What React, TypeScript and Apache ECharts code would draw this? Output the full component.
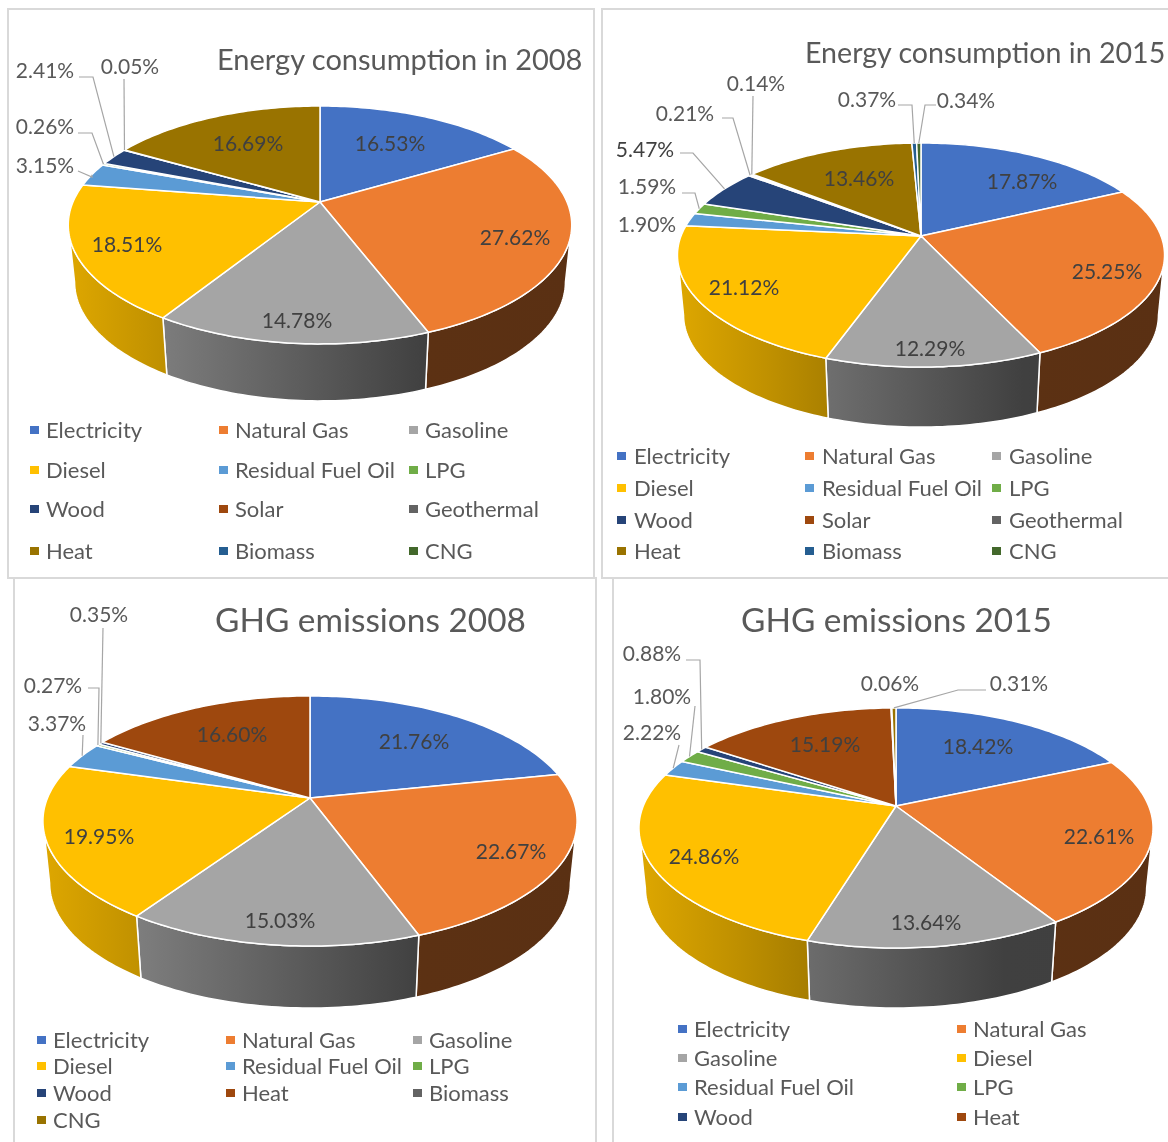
import React, { useEffect, useRef } from "react";
import * as echarts from "echarts";

const categoriesEnergy = ["Electricity", "Natural Gas", "Gasoline", "Diesel", "Residual Fuel Oil", "LPG", "Wood", "Solar", "Geothermal", "Heat", "Biomass", "CNG"];
const categoriesGhg = ["Electricity", "Natural Gas", "Gasoline", "Diesel", "Residual Fuel Oil", "LPG", "Wood", "Heat", "Biomass", "CNG"];

const energy2008 = [16.53, 27.62, 14.78, 18.51, 3.15, 0.26, 2.41, 0.05, 0, 16.69, 0, 0];
const energy2015 = [17.87, 25.25, 12.29, 21.12, 1.9, 1.59, 5.47, 0.21, 0.14, 13.46, 0.37, 0.34];
const ghg2008 = [21.76, 22.67, 15.03, 19.95, 3.37, 0.27, 0.35, 16.6, 0, 0];
const ghg2015 = [18.42, 22.61, 13.64, 24.86, 2.22, 1.8, 0.88, 15.19, 0.06, 0.31];

const palette = ["#4472C4", "#ED7D31", "#A5A5A5", "#FFC000", "#5B9BD5", "#70AD47", "#264478", "#9E480E", "#636363", "#997300", "#255E91", "#43682B"];

type Pt = [number, number];
interface Panel {
  title: string; titleX: number; titleY: number; titleSize: number;
  categories: string[]; values: number[];
  cx: number; cy: number; r: number; k: number; persp: number; depth: number; q: number;
  labels: Record<number, Pt>;
  leaders: Record<number, Pt[]>;
  legendX: number[]; legendRows: number[]; legendColumns: number; legendCount: number; legendTextDx: number;
}

const panels: Panel[] = [
  {
    title: "Energy consumption in 2008", titleX: 217, titleY: 60, titleSize: 29,
    categories: categoriesEnergy, values: energy2008,
    cx: 320, cy: 202, r: 247, k: 114.5, persp: 0.193, depth: 57, q: 0.975,
    labels: { 0: [390, 143], 1: [515, 237], 2: [297, 320], 3: [127, 244], 4: [45, 165], 5: [45, 126], 6: [45, 70], 7: [130, 66], 9: [248, 143] },
    leaders: { 4: [[78, 171], [92, 177]], 5: [[78, 133], [92, 133]], 6: [[79, 77], [93, 77]], 7: [[124, 79]] },
    legendX: [30, 219, 409], legendRows: [430, 470, 509, 551], legendColumns: 3, legendCount: 12, legendTextDx: 16,
  },
  {
    title: "Energy consumption in 2015", titleX: 805, titleY: 53, titleSize: 28.6,
    categories: categoriesEnergy, values: energy2015,
    cx: 921, cy: 236, r: 240, k: 108.8, persp: 0.17, depth: 60, q: 0.975,
    labels: { 0: [1022, 181], 1: [1107, 271], 2: [930, 348], 3: [744, 287], 4: [647, 224], 5: [647, 186], 6: [645, 149], 7: [685, 113], 8: [756, 83], 9: [859, 178], 10: [867, 99], 11: [966, 100] },
    leaders: { 5: [[682, 193], [695, 193]], 6: [[680, 153], [693, 153]], 7: [[722, 118], [733, 118]], 8: [[753, 96]], 10: [[898, 105], [912, 105]], 11: [[936, 105], [925, 105]] },
    legendX: [617, 805, 992], legendRows: [456, 488, 520, 551], legendColumns: 3, legendCount: 12, legendTextDx: 17,
  },
  {
    title: "GHG emissions 2008", titleX: 215, titleY: 621, titleSize: 33.4,
    categories: categoriesGhg, values: ghg2008,
    cx: 310, cy: 798, r: 262.5, k: 120.8, persp: 0.184, depth: 62, q: 0.975,
    labels: { 0: [414, 741], 1: [511, 851], 2: [280, 920], 3: [99, 836], 4: [57, 723], 5: [53, 685], 6: [99, 614], 7: [232, 734] },
    leaders: { 4: [[83, 735]], 5: [[88, 688], [99, 688]], 6: [[103, 628]] },
    legendX: [37, 226, 413], legendRows: [1040, 1066, 1093, 1120], legendColumns: 3, legendCount: 10, legendTextDx: 16,
  },
  {
    title: "GHG emissions 2015", titleX: 741, titleY: 621, titleSize: 33.4,
    categories: categoriesGhg, values: ghg2015,
    cx: 896, cy: 806, r: 252.7, k: 116, persp: 0.183, depth: 60, q: 0.975,
    labels: { 0: [978, 746], 1: [1099, 836], 2: [926, 922], 3: [704, 856], 4: [652, 732], 5: [662, 696], 6: [652, 653], 7: [825, 744], 8: [890, 683], 9: [1019, 683] },
    leaders: { 4: [[679, 745]], 5: [[695, 706]], 6: [[686, 660], [700, 660]], 9: [[986, 690], [958, 690]] },
    legendX: [678, 957], legendRows: [1029, 1058, 1087, 1117], legendColumns: 2, legendCount: 8, legendTextDx: 16,
  },
];

const frames = [
  [8, 9, 586, 569],
  [602, 9, 580, 569],
  [14, 578, 582, 580],
  [613, 578, 570, 580],
];

const FONT = "Lato, sans-serif";
const LABEL_SIZE = 21;
const LEGEND_SIZE = 22;

function project(p: Panel, t: number, f = 1): Pt {
  const u = f * Math.sin(t);
  const v = -f * Math.cos(t);
  const s = 1 / (1 - p.persp * v);
  return [p.cx + p.r * u * s, p.cy + p.k * v * s];
}

function lower(p: Panel, pt: Pt): Pt {
  return [p.cx + (pt[0] - p.cx) * p.q, pt[1] + p.depth];
}

function angles(p: Panel, i: number): [number, number] {
  const total = p.values.reduce((a, b) => a + b, 0);
  let before = 0;
  for (let j = 0; j < i; j++) before += p.values[j];
  return [(before / total) * Math.PI * 2, ((before + p.values[i]) / total) * Math.PI * 2];
}

function arc(p: Panel, a: number, b: number): Pt[] {
  const n = Math.max(2, Math.ceil((b - a) / 0.02));
  const out: Pt[] = [];
  for (let i = 0; i <= n; i++) out.push(project(p, a + ((b - a) * i) / n));
  return out;
}

function shadeColor(hex: string, f: number): string {
  const n = parseInt(hex.slice(1), 16);
  const c = [(n >> 16) & 255, (n >> 8) & 255, n & 255].map((x) => Math.round(x * f));
  return `rgb(${c[0]},${c[1]},${c[2]})`;
}

const wallShade: Pt[] = [[0, 0.87], [0.19, 0.75], [0.71, 0.39], [1, 0.38]];

function wallSeries(p: Panel) {
  const silhouette = Math.acos(-p.persp);
  return {
    type: "custom", coordinateSystem: "none", silent: true, z: 2,
    data: p.values.map((v, i) => [i, v]),
    renderItem: (params: any) => {
      const i = params.dataIndex;
      if (!p.values[i]) return null;
      const [a0, a1] = angles(p, i);
      const a = Math.max(a0, silhouette);
      const b = Math.min(a1, Math.PI * 2 - silhouette);
      if (b <= a) return null;
      const top = arc(p, a, b);
      const bottom = top.map((pt) => lower(p, pt)).reverse();
      const rx = p.r / Math.sqrt(1 - p.persp * p.persp);
      return {
        type: "polygon",
        shape: { points: [...top, ...bottom] },
        style: {
          fill: {
            type: "linear", global: true, x: p.cx - rx, y: 0, x2: p.cx + rx, y2: 0,
            colorStops: wallShade.map(([offset, f]) => ({ offset, color: shadeColor(palette[i], f) })),
          },
          stroke: "#ffffff", lineWidth: 1.5,
        },
      };
    },
  };
}

function topSeries(p: Panel) {
  return {
    type: "custom", coordinateSystem: "none", silent: true, z: 3,
    data: p.values.map((v, i) => [i, v]),
    renderItem: (params: any) => {
      const i = params.dataIndex;
      if (!p.values[i]) return null;
      const [a0, a1] = angles(p, i);
      return {
        type: "polygon",
        shape: { points: [[p.cx, p.cy], ...arc(p, a0, a1)] },
        style: { fill: palette[i], stroke: "#ffffff", lineWidth: 1.5, lineJoin: "round" },
      };
    },
  };
}

function labelSeries(p: Panel) {
  return {
    type: "custom", coordinateSystem: "none", silent: true, z: 4,
    data: p.values.map((v, i) => [i, v]),
    renderItem: (params: any) => {
      const i = params.dataIndex;
      const at = p.labels[i];
      if (!at) return null;
      const [a0, a1] = angles(p, i);
      const children: any[] = [];
      const elbow = p.leaders[i];
      if (elbow) {
        children.push({
          type: "polyline",
          shape: { points: [...elbow, project(p, (a0 + a1) / 2)] },
          style: { fill: "none", stroke: "#a6a6a6", lineWidth: 1.2 },
        });
      }
      children.push({
        type: "text",
        style: {
          text: p.values[i].toFixed(2) + "%",
          x: at[0], y: at[1] - 1, align: "center", verticalAlign: "middle",
          fill: p.values[i] < 5 ? "#595959" : "#404040",
          font: `${LABEL_SIZE}px ${FONT}`,
        },
      });
      return { type: "group", children };
    },
  };
}

function legendGraphics(p: Panel) {
  const out: any[] = [];
  p.categories.slice(0, p.legendCount).forEach((name, i) => {
    const col = i % p.legendColumns;
    const row = Math.floor(i / p.legendColumns);
    const x = p.legendX[col];
    const y = p.legendRows[row];
    out.push({ type: "rect", shape: { x, y: y - 4, width: 9, height: 8 }, style: { fill: palette[i] }, silent: true });
    out.push({
      type: "text", silent: true,
      style: { text: name, x: x + p.legendTextDx, y: y - 1, align: "left", verticalAlign: "middle", fill: "#595959", font: `${LEGEND_SIZE}px ${FONT}` },
    });
  });
  return out;
}

export default function App() {
  const ref = useRef<HTMLDivElement>(null);
  useEffect(() => {
    const chart = echarts.init(ref.current!, undefined, { renderer: "svg" });
    chart.setOption({
      animation: false,
      backgroundColor: "#ffffff",
      title: panels.map((p) => ({
        text: p.title, left: p.titleX, top: p.titleY - p.titleSize * 0.55, padding: 0,
        textStyle: { color: "#595959", fontFamily: FONT, fontWeight: "normal", fontSize: p.titleSize },
      })),
      graphic: [
        ...frames.map(([x, y, width, height]) => ({
          type: "rect", silent: true, z: 0,
          shape: { x, y, width, height },
          style: { fill: "none", stroke: "#d9d9d9", lineWidth: 2 },
        })),
        ...panels.flatMap(legendGraphics),
      ],
      series: panels.flatMap((p) => [wallSeries(p), topSeries(p), labelSeries(p)]),
    });
    return () => chart.dispose();
  }, []);
  return <div ref={ref} style={{ position: "absolute", left: 0, top: 0, width: 1168, height: 1142, filter: "blur(0.4px)" }} />;
}
